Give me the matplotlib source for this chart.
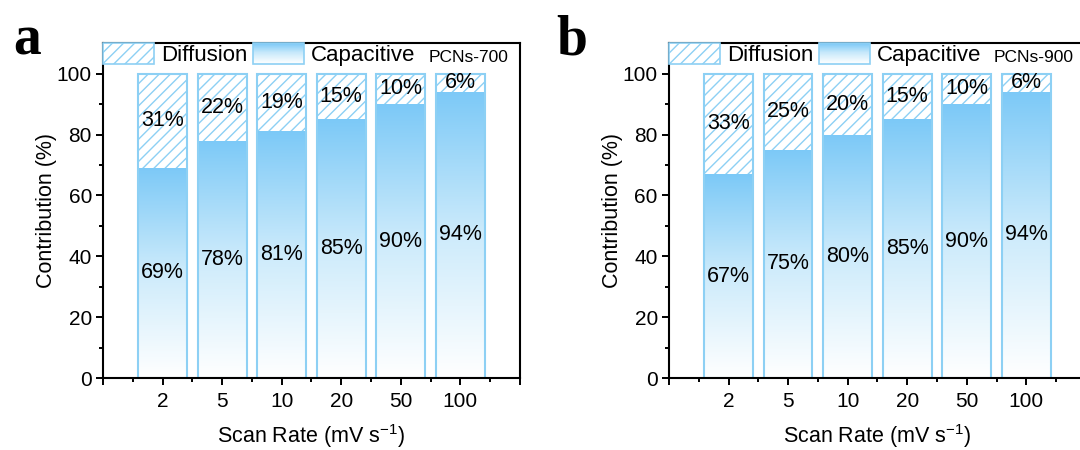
import numpy as np
import matplotlib
matplotlib.use('Agg')
import matplotlib.pyplot as plt
from matplotlib.colors import LinearSegmentedColormap
from matplotlib.legend_handler import HandlerBase
from matplotlib.patches import Rectangle, Patch
from matplotlib.ticker import FixedLocator

# ---------------- data ----------------
scan_rates = ['2', '5', '10', '20', '50', '100']
cap_700 = [69, 78, 81, 85, 90, 94]
diff_700 = [31, 22, 19, 15, 10, 6]
cap_900 = [67, 75, 80, 85, 90, 94]
diff_900 = [33, 25, 20, 15, 10, 6]
samples = ['PCNs-700', 'PCNs-900']
panel_labels = ['a', 'b']

plt.rcParams['font.family'] = ['Liberation Sans', 'DejaVu Sans']
plt.rcParams['hatch.linewidth'] = 1.0
plt.rcParams['mathtext.fontset'] = 'custom'
plt.rcParams['mathtext.rm'] = 'Liberation Sans'

EDGE = '#8DD0F4'
TOP = '#7CC9F7'
cmap = LinearSegmentedColormap.from_list('cap', ['#FFFFFF', '#CDEBFB', TOP])


class GradHandler(HandlerBase):
    def create_artists(self, legend, orig, xd, yd, w, h, fs, trans):
        arts = []
        n = 40
        for i in range(n):
            arts.append(Rectangle((-xd, -yd + h * i / n), w, h / n * 1.05,
                                  facecolor=cmap((i + 0.5) / n), edgecolor='none',
                                  transform=trans))
        arts.append(Rectangle((-xd, -yd), w, h, facecolor='none', edgecolor=EDGE,
                              linewidth=1.2, transform=trans))
        return arts


fig = plt.figure(figsize=(10.8, 4.5), dpi=100)
axes_pos = [[0.0954, 0.16, 0.386, 0.744], [0.6194, 0.16, 0.386, 0.744]]
datasets = [(cap_700, diff_700), (cap_900, diff_900)]
label_x = [0.012, 0.515]
FS = 15.5

for k in range(2):
    ax = fig.add_axes(axes_pos[k])
    cap, dif = datasets[k]
    x = np.arange(1, len(scan_rates) + 1)
    w = 0.82
    grad = np.linspace(0, 1, 256).reshape(-1, 1)
    for xi, c in zip(x, cap):
        rect = ax.bar(xi, c, width=w, color='none', edgecolor='none')[0]
        im = ax.imshow(grad, cmap=cmap, origin='lower', aspect='auto',
                       extent=[xi - w / 2, xi + w / 2, 0, c], zorder=1,
                       interpolation='bilinear')
        im.set_clip_path(rect)
    ax.bar(x, dif, bottom=cap, width=w, facecolor='white', edgecolor=EDGE,
           hatch='///', linewidth=0, zorder=1)
    ax.bar(x, np.add(cap, dif), width=w, fill=False, edgecolor=EDGE,
           linewidth=1.5, zorder=2)
    for xi, c, d in zip(x, cap, dif):
        ax.text(xi, c / 2, f'{c}%', ha='center', va='center', fontsize=FS, zorder=3)
        ax.text(xi, c + d / 2, f'{d}%', ha='center', va='center', fontsize=FS, zorder=3)

    ax.set_xlim(0, 7)
    ax.set_ylim(0, 110)
    ax.xaxis.set_major_locator(FixedLocator(range(0, 8)))
    ax.set_xticklabels([''] + scan_rates + [''])
    ax.xaxis.set_minor_locator(FixedLocator(np.arange(0.5, 7, 1)))
    ax.set_yticks([0, 20, 40, 60, 80, 100])
    ax.yaxis.set_minor_locator(FixedLocator(np.arange(10, 110, 20)))
    ax.tick_params(which='major', direction='out', length=5, width=1.4,
                   labelsize=15, pad=3)
    ax.tick_params(axis='x', which='major', pad=5)
    ax.tick_params(which='minor', direction='out', length=3, width=1.4)
    for s in ax.spines.values():
        s.set_linewidth(1.5)
    ax.set_xlabel('Scan Rate (mV s$^{-1}$)', fontsize=FS, labelpad=8)
    ax.set_ylabel('Contribution (%)', fontsize=FS, labelpad=0)

    h1 = Patch(facecolor='white', edgecolor=EDGE, hatch='///', linewidth=1.2)
    h2 = Patch(facecolor=TOP)
    ax.legend([h1, h2], ['Diffusion', 'Capacitive'], ncol=2, loc='upper left',
              bbox_to_anchor=(0.0, 1.0), borderaxespad=0.0, frameon=False,
              fontsize=16, handlelength=2.3, handleheight=1.05,
              handletextpad=0.3, columnspacing=0.25, borderpad=0.0,
              handler_map={h2: GradHandler()})
    ax.text(0.78, 0.958, samples[k], transform=ax.transAxes, ha='left',
            va='center', fontsize=12.5)
    fig.text(label_x[k], 0.878, panel_labels[k], fontsize=40, fontweight='bold',
             family='Liberation Serif', ha='left', va='baseline')

fig.savefig('out.png', dpi=100)
